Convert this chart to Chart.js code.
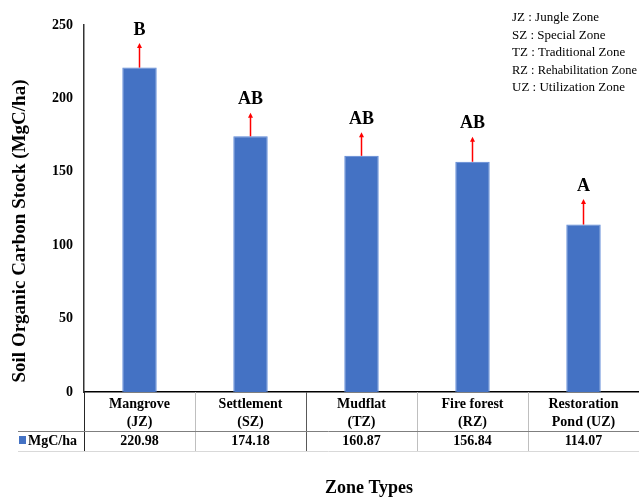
<!DOCTYPE html>
<html>
<head>
<meta charset="utf-8">
<script src="https://cdn.jsdelivr.net/npm/chart.js@4.4.1/dist/chart.umd.min.js"></script>
<style>
html, body { margin: 0; padding: 0; background: #fff; }
#wrap { width: 639px; height: 497px; position: relative; }
</style>
</head>
<body>
<div id="wrap"><canvas id="socChart"></canvas></div>
<script>
// data
var categories = [['Mangrove', '(JZ)'], ['Settlement', '(SZ)'], ['Mudflat', '(TZ)'], ['Fire forest', '(RZ)'], ['Restoration', 'Pond (UZ)']]
var socValues  = [220.98, 174.18, 160.87, 156.84, 114.07]
var socErrors  = [16.7, 16.0, 16.0, 17.0, 17.4]
var sigLetters = ['B', 'AB', 'AB', 'AB', 'A']
var zoneNotes  = ['JZ : Jungle Zone', 'SZ : Special Zone', 'TZ : Traditional Zone', 'RZ : Rehabilitation Zone', 'UZ : Utilization Zone']
var seriesName = 'MgC/ha'
var yTitle     = 'Soil Organic Carbon Stock (MgC/ha)'
var xTitle     = 'Zone Types'

var serif = '"Liberation Serif", "Times New Roman", serif'
var barBlue = '#4472C4'

// error bars, letters, data table and zone notes
var extras = {
  id: 'extras',
  afterDatasetsDraw: function (chart) {
    var ctx = chart.ctx, xs = chart.scales.x, ys = chart.scales.y
    ctx.save()
    socValues.forEach(function (v, i) {
      var cx = xs.getPixelForValue(i)
      var yTop = ys.getPixelForValue(v)
      var yTip = ys.getPixelForValue(v + socErrors[i])
      ctx.strokeStyle = '#ff0000'
      ctx.fillStyle = '#ff0000'
      ctx.lineWidth = 1.5
      ctx.beginPath()
      ctx.moveTo(cx, yTop)
      ctx.lineTo(cx, yTip + 3)
      ctx.stroke()
      ctx.beginPath()
      ctx.moveTo(cx, yTip)
      ctx.lineTo(cx - 2.5, yTip + 5)
      ctx.lineTo(cx + 2.5, yTip + 5)
      ctx.closePath()
      ctx.fill()
      ctx.fillStyle = '#000'
      ctx.font = 'bold 18px ' + serif
      ctx.textAlign = 'center'
      ctx.textBaseline = 'middle'
      ctx.fillText(sigLetters[i], cx, yTip - 13)
    })
    ctx.restore()
  },
  afterDraw: function (chart) {
    var ctx = chart.ctx, xs = chart.scales.x, area = chart.chartArea
    var step = (area.right - area.left) / categories.length
    ctx.save()
    // table grid
    ctx.lineWidth = 1
    for (var i = 1; i < categories.length; i++) {
      var lx = Math.round(area.left + i * step) + 0.5
      ctx.strokeStyle = i === 2 ? '#595959' : '#bfbfbf'
      ctx.beginPath()
      ctx.moveTo(lx, area.bottom)
      ctx.lineTo(lx, 451)
      ctx.stroke()
    }
    ctx.strokeStyle = '#262626'
    ctx.beginPath()
    ctx.moveTo(area.left + 0.5, area.bottom)
    ctx.lineTo(area.left + 0.5, 451)
    ctx.stroke()
    ctx.strokeStyle = '#7f7f7f'
    ctx.beginPath()
    ctx.moveTo(18, 431.5)
    ctx.lineTo(639, 431.5)
    ctx.stroke()
    ctx.strokeStyle = '#d9d9d9'
    ctx.beginPath()
    ctx.moveTo(18, 451.5)
    ctx.lineTo(639, 451.5)
    ctx.stroke()
    // series row
    ctx.fillStyle = barBlue
    ctx.fillRect(19, 436, 7, 8)
    ctx.fillStyle = '#000'
    ctx.font = 'bold 14px ' + serif
    ctx.textBaseline = 'middle'
    ctx.textAlign = 'left'
    ctx.fillText(seriesName, 28, 441)
    ctx.textAlign = 'center'
    socValues.forEach(function (v, i) {
      ctx.fillText(v.toFixed(2), xs.getPixelForValue(i), 441)
    })
    // axis titles
    ctx.font = 'bold 18px ' + serif
    ctx.fillText(xTitle, 369, 488)
    ctx.save()
    ctx.translate(20, 231)
    ctx.rotate(-Math.PI / 2)
    ctx.font = 'bold 19px ' + serif
    ctx.fillText(yTitle, 0, 0)
    ctx.restore()
    // zone notes
    ctx.font = '13px ' + serif
    ctx.textAlign = 'left'
    zoneNotes.forEach(function (t, i) {
      ctx.fillText(t, 512, 18 + i * 17.5, 125)
    })
    ctx.restore()
  }
}

var socChart = new Chart(document.getElementById('socChart'), {
  type: 'bar',
  data: {
    labels: categories,
    datasets: [{
      label: seriesName,
      data: socValues,
      backgroundColor: barBlue,
      borderColor: '#5a86d6',
      borderWidth: 1,
      barPercentage: 0.31,
      categoryPercentage: 1
    }]
  },
  options: {
    responsive: true,
    maintainAspectRatio: false,
    animation: false,
    layout: { padding: { top: 25, right: 0, left: 0, bottom: 0 } },
    plugins: { legend: { display: false }, tooltip: { enabled: false } },
    scales: {
      x: {
        grid: { display: false, drawTicks: false },
        border: { color: '#000', width: 1.5 },
        ticks: { color: '#000', padding: 3, font: { family: serif, size: 14, weight: 'bold', lineHeight: 1.3 } },
        afterFit: function (scale) { scale.height = 105 }
      },
      y: {
        min: 0,
        max: 250,
        grid: { display: false, drawTicks: false },
        border: { color: '#333', width: 1.5 },
        ticks: { stepSize: 50, color: '#000', padding: 11, font: { family: serif, size: 14, weight: 'bold' } },
        afterFit: function (scale) { scale.width = 84 }
      }
    }
  },
  plugins: [extras]
})
</script>
</body>
</html>
